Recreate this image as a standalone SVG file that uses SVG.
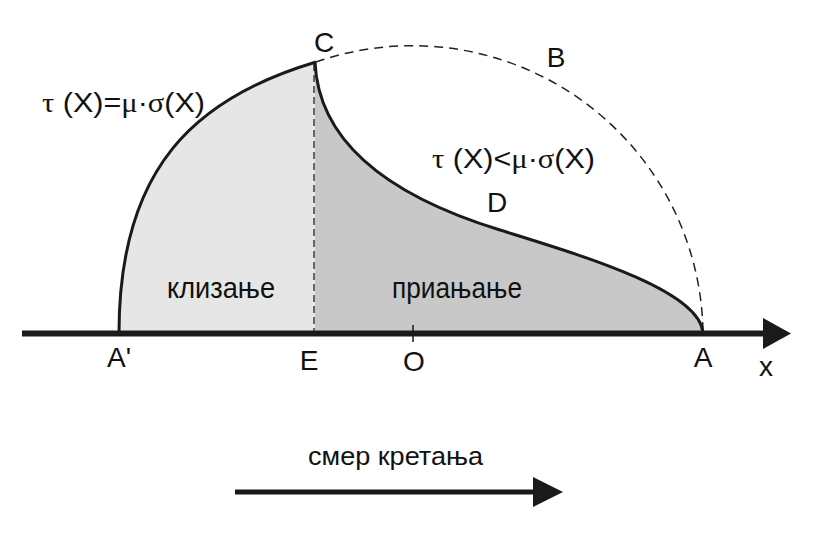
<svg xmlns="http://www.w3.org/2000/svg" width="823" height="542" viewBox="0 0 823 542">
<style>
.t{font-family:"Liberation Sans",Arial,sans-serif;fill:#111;}
.g{font-family:"Liberation Serif","Times New Roman",serif;}
.lbl{font-size:28px;text-anchor:middle;}
.curve{fill:none;stroke:#1a1a1a;stroke-width:3;}
.dash{fill:none;stroke:#222;stroke-width:1.5;stroke-dasharray:9 6;}
.vdash{fill:none;stroke:#222;stroke-width:1.3;stroke-dasharray:7 4;}
</style>
<rect width="823" height="542" fill="#fff"/>
<g id="regions">
<path id="slip" d="M119,333 C119,168 195,98 315,62 L315,333 Z" fill="#e6e6e6"/>
<path id="stick" d="M315,62 C318,130 370,190 500,230 C580,255 700,290 703,333 L315,333 Z" fill="#c8c8c8"/>
</g>
<g id="connectors">
<path class="dash" d="M316,62 A291,291 0 0 1 703,333"/>
<line class="vdash" x1="314" y1="64" x2="314" y2="333"/>
<path class="curve" d="M119,333 C119,168 195,98 316,62"/>
<path class="curve" d="M315,62 C318,130 370,190 500,230 C580,255 700,290 703,333"/>
<line x1="22" y1="333.5" x2="768" y2="333.5" stroke="#1a1a1a" stroke-width="6"/>
<polygon points="763,318 791,333.5 763,349" fill="#1a1a1a"/>
<line x1="413" y1="325" x2="413" y2="342" stroke="#1a1a1a" stroke-width="1.5"/>
<line x1="235" y1="492" x2="536" y2="492" stroke="#1a1a1a" stroke-width="5"/>
<polygon points="533,477 563,492 533,507" fill="#1a1a1a"/>
</g>
<g id="labels">
<text class="t lbl" x="324" y="52">C</text>
<text class="t lbl" x="556" y="67">B</text>
<text class="t lbl" x="497" y="212">D</text>
<text class="t" font-size="28" x="107" y="367">A'</text>
<text class="t lbl" x="309" y="370">E</text>
<text class="t lbl" x="414" y="371">O</text>
<text class="t lbl" x="703" y="367">A</text>
<text class="t lbl" x="766" y="376">x</text>
<text class="t" font-size="28" x="42" y="112" textLength="163" lengthAdjust="spacingAndGlyphs"><tspan class="g">τ</tspan> (X)=<tspan class="g">μ</tspan>·<tspan class="g">σ</tspan>(X)</text>
<text class="t" font-size="28" x="432" y="168" textLength="163" lengthAdjust="spacingAndGlyphs"><tspan class="g">τ</tspan> (X)&lt;<tspan class="g">μ</tspan>·<tspan class="g">σ</tspan>(X)</text>
<text class="t" font-size="29" x="167" y="298" textLength="108" lengthAdjust="spacingAndGlyphs">клизање</text>
<text class="t" font-size="29" x="392" y="298" textLength="130" lengthAdjust="spacingAndGlyphs">приањање</text>
<text class="t" font-size="26" x="308" y="465" textLength="175" lengthAdjust="spacingAndGlyphs">смер кретања</text>
</g>
</svg>
